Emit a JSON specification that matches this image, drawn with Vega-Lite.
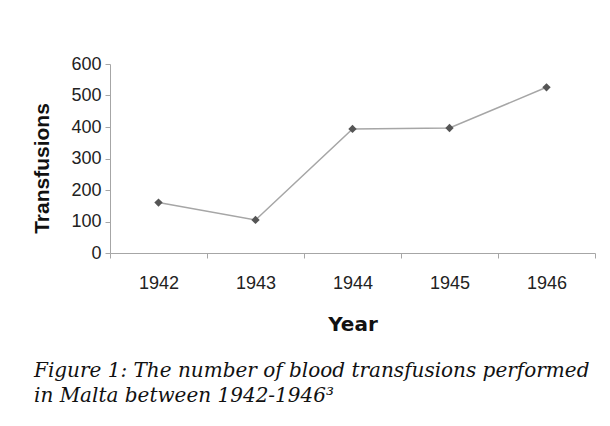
{
  "$schema": "https://vega.github.io/schema/vega-lite/v6.json",
  "width": 485,
  "height": 189,
  "autosize": {"type": "none"},
  "padding": {"left": 110, "top": 64, "right": 15, "bottom": 173},
  "background": "white",
  "config": {"view": {"stroke": null}},
  "title": {
    "text": ["Figure 1: The number of blood transfusions performed", "in Malta between 1942-1946³"],
    "orient": "bottom",
    "anchor": "start",
    "frame": "group",
    "dx": -76,
    "offset": 27,
    "font": "DejaVu Serif",
    "fontStyle": "italic",
    "fontWeight": "normal",
    "fontSize": 20,
    "lineHeight": 25,
    "color": "#111"
  },
  "data": {
    "values": [
      {"year": "1942", "transfusions": 160},
      {"year": "1943", "transfusions": 105},
      {"year": "1944", "transfusions": 394},
      {"year": "1945", "transfusions": 397},
      {"year": "1946", "transfusions": 526}
    ]
  },
  "encoding": {
    "x": {
      "field": "year",
      "type": "ordinal",
      "scale": {"type": "band", "paddingInner": 0, "paddingOuter": 0},
      "axis": {
        "title": "Year",
        "labelAngle": 0,
        "tickBand": "extent",
        "domainColor": "#a6a6a6",
        "tickColor": "#a6a6a6",
        "tickSize": 5,
        "labelFont": "Liberation Sans",
        "labelFontSize": 18,
        "labelColor": "#222",
        "labelPadding": 16,
        "titleFont": "DejaVu Sans",
        "titleFontWeight": "bold",
        "titleFontSize": 20,
        "titleColor": "#111",
        "titlePadding": 22
      }
    },
    "y": {
      "field": "transfusions",
      "type": "quantitative",
      "scale": {"domain": [0, 600]},
      "axis": {
        "title": "Transfusions",
        "values": [0, 100, 200, 300, 400, 500, 600],
        "grid": false,
        "domainColor": "#a6a6a6",
        "tickColor": "#a6a6a6",
        "tickSize": 5,
        "labelFont": "Liberation Sans",
        "labelFontSize": 18,
        "labelColor": "#222",
        "labelPadding": 4,
        "titleFont": "Liberation Sans",
        "titleFontWeight": "bold",
        "titleFontSize": 21,
        "titleColor": "#111",
        "titleX": -68,
        "titleY": 104,
        "titleBaseline": "middle"
      }
    }
  },
  "layer": [
    {"mark": {"type": "line", "color": "#a6a6a6", "strokeWidth": 1.5}},
    {"mark": {"type": "point", "shape": "diamond", "filled": true, "color": "#555555", "size": 70, "opacity": 1}}
  ]
}
